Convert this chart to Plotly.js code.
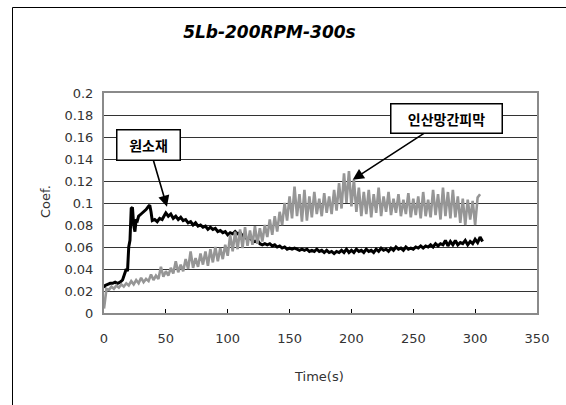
<!DOCTYPE html>
<html>
<head>
<meta charset="utf-8">
<script src="https://cdn.plot.ly/plotly-3.0.1.min.js"></script>
<style>html,body{margin:0;padding:0;background:#fff;}#chart{width:566px;height:405px;}</style>
</head>
<body>
<div id="chart"></div>
<script>
// 원소재 (black)
const rawTime = [0,1,3,5,7,9,11,13,15,17,18,19,20,21,22,23,24,25,26,27,28,30,32,34,36,37,38,39,41,43,45,47,49,50,52,54,56,58,60,62,64,66,68,70,72,74,76,78,80,82,84,86,88,90,92,94,96,98,100,102,104,106,108,110,112,114,116,118,120,122,124,126,128,130,132,134,136,138,140,142,144,146,148,150,152,154,156,158,160,162,164,166,168,170,172,174,176,178,180,182,184,186,188,190,192,194,196,198,200,202,204,206,208,210,212,214,216,218,220,222,224,226,228,230,232,234,236,238,240,242,244,246,248,250,252,254,256,258,260,262,264,266,268,270,272,274,276,278,280,282,284,286,288,290,292,294,296,298,300,302,304,306];
const rawCoef = [0.023,0.025,0.026,0.027,0.027,0.028,0.027,0.028,0.030,0.036,0.040,0.038,0.060,0.066,0.095,0.096,0.080,0.074,0.085,0.084,0.088,0.090,0.092,0.094,0.097,0.098,0.092,0.084,0.085,0.083,0.086,0.085,0.089,0.091,0.088,0.090,0.086,0.088,0.085,0.087,0.084,0.085,0.082,0.083,0.080,0.082,0.079,0.080,0.078,0.079,0.076,0.078,0.076,0.077,0.074,0.075,0.073,0.074,0.071,0.073,0.072,0.074,0.072,0.073,0.070,0.069,0.067,0.068,0.066,0.065,0.066,0.063,0.062,0.063,0.062,0.063,0.061,0.062,0.060,0.061,0.059,0.060,0.058,0.059,0.058,0.059,0.058,0.057,0.058,0.057,0.058,0.056,0.057,0.056,0.058,0.056,0.057,0.055,0.057,0.055,0.056,0.054,0.056,0.055,0.057,0.055,0.058,0.055,0.057,0.055,0.058,0.056,0.057,0.055,0.058,0.056,0.057,0.055,0.058,0.056,0.059,0.057,0.058,0.056,0.059,0.057,0.060,0.058,0.059,0.057,0.060,0.058,0.059,0.058,0.060,0.059,0.061,0.059,0.061,0.060,0.062,0.060,0.063,0.061,0.063,0.062,0.066,0.061,0.065,0.062,0.066,0.062,0.064,0.063,0.066,0.062,0.065,0.063,0.067,0.064,0.069,0.065];

// 인산망간피막 (gray)
const coatTime = [0,2,4,6,8,10,12,14,16,18,20,22,24,26,28,30,32,34,36,38,40,42,44,46,48,50,52,54,56,58,60,62,64,66,68,70,72,74,76,78,80,82,84,86,88,90,92,94,96,98,100,102,104,106,108,110,112,114,116,118,120,122,124,126,128,130,132,134,136,138,140,142,144,146,148,150,152,154,156,158,160,162,164,166,168,170,172,174,176,178,180,182,184,186,188,190,192,194,196,198,200,202,204,206,208,210,212,214,216,218,220,222,224,226,228,230,232,234,236,238,240,242,244,246,248,250,252,254,256,258,260,262,264,266,268,270,272,274,276,278,280,282,284,286,288,290,292,294,296,298,300,302,304];
const coatCoef = [0.004,0.022,0.021,0.024,0.022,0.025,0.023,0.026,0.024,0.027,0.025,0.029,0.026,0.030,0.027,0.032,0.028,0.031,0.029,0.035,0.030,0.034,0.031,0.042,0.033,0.038,0.034,0.041,0.036,0.047,0.037,0.044,0.038,0.049,0.040,0.056,0.041,0.050,0.042,0.054,0.044,0.056,0.043,0.058,0.046,0.060,0.047,0.059,0.049,0.062,0.052,0.071,0.056,0.074,0.058,0.076,0.059,0.078,0.061,0.075,0.062,0.079,0.063,0.077,0.065,0.080,0.069,0.085,0.071,0.088,0.074,0.092,0.080,0.100,0.084,0.106,0.086,0.115,0.088,0.108,0.083,0.112,0.084,0.106,0.087,0.110,0.090,0.104,0.088,0.109,0.091,0.106,0.090,0.112,0.093,0.118,0.095,0.127,0.100,0.129,0.097,0.121,0.092,0.114,0.088,0.110,0.090,0.112,0.087,0.108,0.091,0.114,0.088,0.106,0.092,0.110,0.089,0.104,0.091,0.108,0.088,0.103,0.090,0.109,0.087,0.104,0.089,0.106,0.086,0.110,0.088,0.103,0.087,0.112,0.089,0.108,0.085,0.114,0.088,0.110,0.086,0.112,0.087,0.106,0.082,0.104,0.080,0.103,0.085,0.102,0.080,0.105,0.108];

const xTicks = [0,50,100,150,200,250,300,350];
const yTicks = [0,0.02,0.04,0.06,0.08,0.1,0.12,0.14,0.16,0.18,0.2];
const labelRaw = '원소재';
const labelCoat = '인산망간피막';

const tickFont = {family: 'DejaVu Sans, Arial, sans-serif', size: 13, color: '#333'};

const traces = [
  {x: rawTime, y: rawCoef, type: 'scatter', mode: 'lines', name: labelRaw,
   line: {color: '#000', width: 3}},
  {x: coatTime, y: coatCoef, type: 'scatter', mode: 'lines', name: labelCoat,
   line: {color: '#969696', width: 2.6}}
];

const layout = {
  width: 566, height: 405,
  margin: {l: 104, r: 29, t: 93, b: 92},
  paper_bgcolor: '#fff', plot_bgcolor: '#fff',
  showlegend: false,
  title: {text: '<b>5Lb-200RPM-300s</b>', x: 0.476, xanchor: 'center', y: 0.92, yanchor: 'middle', yref: 'container',
          font: {family: 'DejaVu Sans, Arial, sans-serif', size: 17, style: 'italic', color: '#000'}},
  xaxis: {range: [0, 350], tickvals: xTicks, ticktext: xTicks.map(String), ticks: 'inside', ticklen: 4, tickcolor: '#000',
          showgrid: false, zeroline: false, showline: true, mirror: true, linecolor: '#8a8a8a', linewidth: 2,
          tickfont: tickFont, ticklabelstandoff: 12},
  yaxis: {range: [0, 0.2], tickvals: yTicks, ticktext: yTicks.map(String), ticks: '', showgrid: true, gridcolor: '#333', gridwidth: 1,
          zeroline: false, showline: true, mirror: true, linecolor: '#8a8a8a', linewidth: 2,
          tickfont: tickFont, ticklabelstandoff: 6},
  annotations: [
    {xref: 'paper', yref: 'paper', x: (45-104)/433, y: (313-202)/220, text: 'Coef.', showarrow: false, textangle: -90,
     font: {family: 'DejaVu Sans, Arial, sans-serif', size: 13, color: '#333'}, xanchor: 'center', yanchor: 'middle'},
    {xref: 'paper', yref: 'paper', x: (319-104)/433, y: (313-376)/220, text: 'Time(s)', showarrow: false,
     font: {family: 'DejaVu Sans, Arial, sans-serif', size: 13, color: '#333'}, xanchor: 'center', yanchor: 'middle'},
    {x: 50.9, y: 0.0966, ax: -18, ay: -61.5, text: '<b>' + labelRaw + '</b>', showarrow: true,
     arrowhead: 2, arrowsize: 1.4, arrowwidth: 1.6, arrowcolor: '#000',
     bgcolor: '#fff', bordercolor: '#000', borderwidth: 1.5, width: 60, height: 27,
     font: {family: 'Noto Sans CJK KR, sans-serif', size: 14, color: '#000'}},
    {x: 201, y: 0.1212, ax: 94, ay: -61, text: '<b>' + labelCoat + '</b>', showarrow: true,
     arrowhead: 2, arrowsize: 1.4, arrowwidth: 1.6, arrowcolor: '#000',
     bgcolor: '#fff', bordercolor: '#000', borderwidth: 1.5, width: 108, height: 26,
     font: {family: 'Noto Sans CJK KR, sans-serif', size: 14, color: '#000'}}
  ],
  shapes: [
    {type: 'rect', xref: 'paper', yref: 'paper', x0: (12.5-104)/433, x1: (575-104)/433, y0: (313-420)/220, y1: (313-7.5)/220,
     line: {color: '#000', width: 1}, fillcolor: 'rgba(0,0,0,0)', layer: 'below'}
  ]
};

Plotly.newPlot('chart', traces, layout, {staticPlot: true, displayModeBar: false});
</script>
</body>
</html>
